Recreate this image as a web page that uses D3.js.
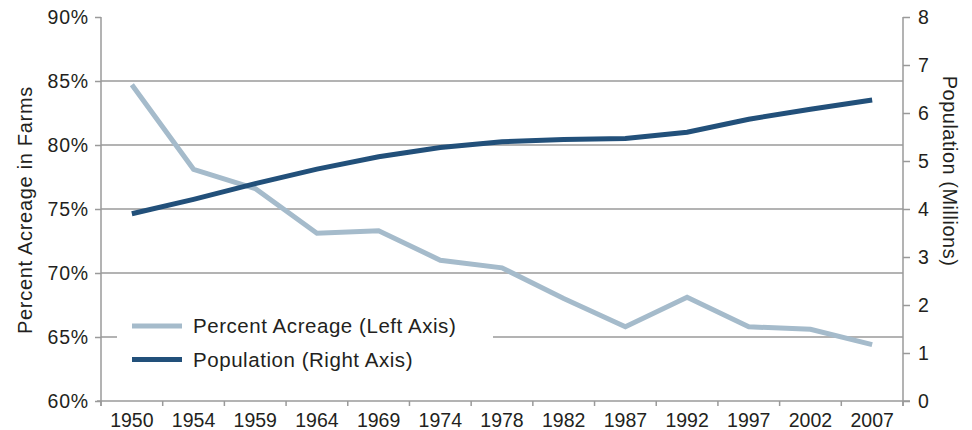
<!DOCTYPE html>
<meta charset="utf-8">
<head>
  <style>
    html, body { margin: 0; padding: 0; background: #fff; }
    svg text { font-family: "Liberation Sans", Arial, sans-serif; fill: #231f20; }
  </style>
</head>
<script src="https://cdn.jsdelivr.net/npm/d3@7"></script>
<body>
<svg id="chart" width="972" height="430"></svg>
<script>
  // data
  var years = ["1950","1954","1959","1964","1969","1974","1978","1982","1987","1992","1997","2002","2007"];
  var acreage = [84.7, 78.1, 76.6, 73.1, 73.3, 71.0, 70.4, 68.0, 65.8, 68.1, 65.8, 65.6, 64.4];
  var population = [3.9, 4.2, 4.53, 4.83, 5.09, 5.28, 5.40, 5.45, 5.47, 5.6, 5.87, 6.08, 6.27];
  var leftTicks = [60, 65, 70, 75, 80, 85, 90];
  var rightTicks = [0, 1, 2, 3, 4, 5, 6, 7, 8];
  var legendLabels = ["Percent Acreage (Left Axis)", "Population (Right Axis)"];

  var lightCol = "#a5bbcb", darkCol = "#22507a", gridCol = "#9a9a9a";
  var plotL = 101, plotR = 903, plotT = 17, plotB = 401;

  var svg = d3.select("#chart");

  var x = d3.scaleBand().domain(years).range([plotL, plotR]);
  var yL = d3.scaleLinear().domain([60, 90]).range([plotB, plotT]);
  var yR = d3.scaleLinear().domain([0, 8]).range([plotB, plotT]);

  // gridlines (skip the top and the baseline)
  svg.append("g").selectAll("line")
    .data(leftTicks.filter(function(d){ return d > 60 && d < 90; }))
    .enter().append("line")
    .attr("x1", plotL).attr("x2", plotR)
    .attr("y1", function(d){ return yL(d); }).attr("y2", function(d){ return yL(d); })
    .attr("stroke", gridCol).attr("stroke-width", 1.5);

  // left axis
  var gl = svg.append("g").attr("transform", "translate(" + plotL + ",0)")
    .call(d3.axisLeft(yL).tickValues(leftTicks).tickSize(6).tickPadding(6)
      .tickFormat(function(d){ return d + "%"; }));
  // right axis
  var gr = svg.append("g").attr("transform", "translate(" + plotR + ",0)")
    .call(d3.axisRight(yR).tickValues(rightTicks).tickSize(7).tickPadding(8));
  // bottom axis, ticks on band edges
  var gb = svg.append("g").attr("transform", "translate(0," + plotB + ")")
    .call(d3.axisBottom(x).tickSize(0).tickPadding(12));
  gb.selectAll(".edge").data(years.concat(["end"])).enter().append("line")
    .attr("class", "edge")
    .attr("x1", function(d, i){ return plotL + i * x.step(); })
    .attr("x2", function(d, i){ return plotL + i * x.step(); })
    .attr("y1", 0).attr("y2", 5)
    .attr("stroke", gridCol).attr("stroke-width", 1.5);

  [gl, gr, gb].forEach(function(g){
    g.select(".domain").attr("stroke", gridCol).attr("stroke-width", 1.5);
    g.selectAll(".tick line").attr("stroke", gridCol).attr("stroke-width", 1.5);
    g.selectAll(".tick text").attr("font-size", 19.5).attr("fill", "#231f20")
      .style("font-family", "'Liberation Sans', Arial, sans-serif");
  });
  gl.selectAll(".tick text").style("letter-spacing", "0.8px");
  gb.select(".domain").attr("d", "M" + (plotL - 4) + ",0H" + (plotR + 7));
  gr.select(".domain").attr("d", "M0," + plotT + "V" + (plotB + 5));
  gl.select(".domain").attr("d", "M0," + plotT + "V" + (plotB + 5));

  // axis titles
  svg.append("text").attr("transform", "translate(25,210) rotate(-90)")
    .attr("text-anchor", "middle").attr("dy", "0.35em").attr("font-size", 20)
    .style("letter-spacing", "0.7px").text("Percent Acreage in Farms");
  svg.append("text").attr("transform", "translate(950,171) rotate(90)")
    .attr("text-anchor", "middle").attr("dy", "0.35em").attr("font-size", 20)
    .style("letter-spacing", "0.5px").text("Population (Millions)");

  // legend box hides part of the 65% gridline
  svg.append("rect").attr("x", 117).attr("y", 305).attr("width", 376).attr("height", 70).attr("fill", "#fff");

  var cx = function(d, i){ return x(years[i]) + x.bandwidth() / 2; };
  var lineL = d3.line().x(cx).y(function(d){ return yL(d); });
  var lineR = d3.line().x(cx).y(function(d){ return yR(d); });

  svg.append("path").datum(acreage).attr("d", lineL)
    .attr("fill", "none").attr("stroke", lightCol).attr("stroke-width", 5);
  svg.append("path").datum(population).attr("d", lineR)
    .attr("fill", "none").attr("stroke", darkCol).attr("stroke-width", 5);

  // legend
  var lg = svg.append("g");
  lg.selectAll("line").data(legendLabels).enter().append("line")
    .attr("x1", 132).attr("x2", 182)
    .attr("y1", function(d, i){ return 326 + i * 33.5; })
    .attr("y2", function(d, i){ return 326 + i * 33.5; })
    .attr("stroke", function(d, i){ return i ? darkCol : lightCol; })
    .attr("stroke-width", 5);
  lg.selectAll("text").data(legendLabels).enter().append("text")
    .attr("x", 193).attr("y", function(d, i){ return 326 + i * 33.5; })
    .attr("dy", "0.35em").attr("font-size", 20.5)
    .style("letter-spacing", "0.55px").text(function(d){ return d; });
</script>
</body>
